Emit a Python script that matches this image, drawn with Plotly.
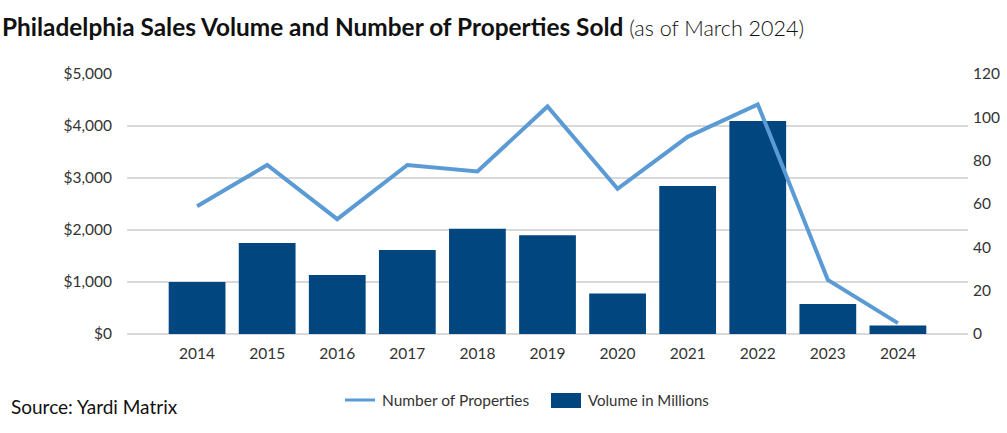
import plotly.graph_objects as go

years = ["2014", "2015", "2016", "2017", "2018", "2019", "2020", "2021", "2022", "2023", "2024"]
volume_millions = [1000, 1750, 1135, 1615, 2025, 1900, 780, 2845, 4095, 575, 165]
num_properties = [59, 78, 53, 78, 75, 105, 67, 91, 106, 25, 5]
left_ticks = [0, 1000, 2000, 3000, 4000, 5000]
left_labels = ["$0", "$1,000", "$2,000", "$3,000", "$4,000", "$5,000"]
right_ticks = [0, 20, 40, 60, 80, 100, 120]

BAR = "#01467f"
LINE = "#5b9bd5"
TXT = "#333333"
FONT = "Lato"

fig = go.Figure()
fig.add_trace(go.Bar(x=years, y=volume_millions, name="Volume in Millions",
                     marker=dict(color=BAR, line=dict(width=0)), yaxis="y", showlegend=False))
fig.add_trace(go.Scatter(x=years, y=num_properties, name="Number of Properties", mode="lines",
                         line=dict(color=LINE, width=4), yaxis="y2", showlegend=False))

fig.update_layout(
    width=1007, height=433,
    margin=dict(l=127, r=39, t=74, b=99),
    paper_bgcolor="white", plot_bgcolor="white",
    font=dict(family=FONT, color=TXT, size=15.5),
    bargap=0.19,
    xaxis=dict(type="category", range=[-1, 11], showgrid=False, ticks="", showline=False,
               automargin=False, ticklabelstandoff=8, tickfont=dict(size=15.5, color=TXT)),
    yaxis=dict(range=[0, 5000], tickvals=left_ticks, ticktext=left_labels, showgrid=True,
               gridcolor="#d9d9d9", gridwidth=1.5, zeroline=True, zerolinecolor="#d9d9d9",
               zerolinewidth=1.5, ticks="", automargin=False, ticklabelstandoff=14,
               tickfont=dict(size=15.5, color=TXT)),
    yaxis2=dict(range=[0, 120], tickvals=right_ticks, overlaying="y", side="right", showgrid=False,
                zeroline=False, ticks="", automargin=False, ticklabelstandoff=4,
                tickfont=dict(size=15.5, color=TXT)),
    annotations=[
        dict(text="<b>Philadelphia Sales Volume and Number of Properties Sold</b>"
                  "<span style='font-size:21.5px;font-weight:300'> (as of March 2024)</span>",
             xref="paper", yref="paper", x=-127/841, y=1 + 47/260, xanchor="left", yanchor="middle",
             showarrow=False, font=dict(size=24.4, color="#111111", family=FONT)),
        dict(text="Source: Yardi Matrix", xref="paper", yref="paper", x=-118/841, y=-72/260,
             xanchor="left", yanchor="middle", showarrow=False, font=dict(size=19, color="#111111")),
        dict(text="Number of Properties", xref="paper", yref="paper", x=(380-127)/841, y=-66/260,
             xanchor="left", yanchor="middle", showarrow=False, font=dict(size=15.5, color=TXT)),
        dict(text="Volume in Millions", xref="paper", yref="paper", x=(586-127)/841, y=-66/260,
             xanchor="left", yanchor="middle", showarrow=False, font=dict(size=15, color=TXT)),
    ],
    shapes=[
        dict(type="line", xref="paper", yref="paper", x0=(345-127)/841, x1=(375-127)/841,
             y0=-66/260, y1=-66/260, line=dict(color=LINE, width=3)),
        dict(type="rect", xref="paper", yref="paper", x0=(551-127)/841, x1=(581-127)/841,
             y0=-74/260, y1=-59/260, fillcolor=BAR, line=dict(width=0)),
    ],
)

fig.write_html("out.html")
